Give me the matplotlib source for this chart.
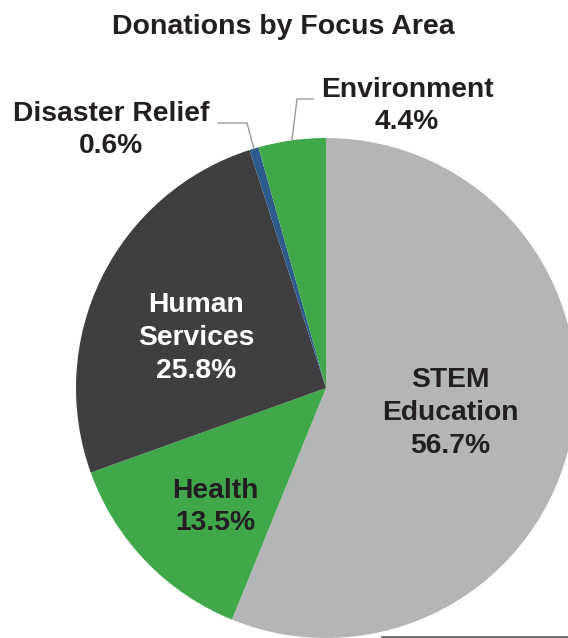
import matplotlib
matplotlib.use("Agg")
import matplotlib.pyplot as plt
import numpy as np
from matplotlib.lines import Line2D

plt.rcParams['font.family'] = ['Liberation Sans', 'DejaVu Sans']

categories = ["STEM Education", "Health", "Human Services", "Disaster Relief", "Environment"]
values = [56.7, 13.5, 25.8, 0.6, 4.4]
label_texts = ["STEM\nEducation\n56.7%", "Health\n13.5%", "Human\nServices\n25.8%",
               "Disaster Relief\n0.6%", "Environment\n4.4%"]
colors = ["#b3b5b6", "#41a74b", "#3f3f41", "#2c5b8c", "#41a74b"]
text_colors = ["#231f20", "#231f20", "#ffffff", "#231f20", "#231f20"]

W, H = 568, 638
fig = plt.figure(figsize=(W / 100, H / 100), dpi=100)
fig.patch.set_facecolor("white")

# pie geometry in pixels
cx, cy, R = 326, 388, 250
ax = fig.add_axes([(cx - R) / W, (H - cy - R) / H, 2 * R / W, 2 * R / H])
ax.set_aspect("equal")
ax.axis("off")

wedges, _ = ax.pie(values, colors=colors, startangle=90, counterclock=False,
                   radius=1, wedgeprops=dict(linewidth=0))
ax.set_xlim(-1, 1)
ax.set_ylim(-1, 1)

def px2d(px, py):
    return (px - cx) / R, (cy - py) / R

# label positions (pixel centers)
label_pos = [(450, 413), (215, 507), (196, 338), (111, 130), (407, 106)]
fs = 20.3
for txt, (px, py), tc in zip(label_texts, label_pos, text_colors):
    x, y = px2d(px, py)
    ax.text(x, y, txt, ha="center", va="center", fontsize=fs, fontweight="bold",
            color=tc, linespacing=1.33, clip_on=False)

# leader lines for small slices
total = sum(values)
cum = np.cumsum([0] + values)
def mid_point(i, r=1.0):
    frac = (cum[i] + values[i] / 2) / total
    ang = np.deg2rad(90 - frac * 360)
    return r * np.cos(ang), r * np.sin(ang)

lc = "#9a9a9a"
# Disaster Relief
ex, ey = mid_point(3, 1.0)
x0, y0 = px2d(218, 123)
x1, y1 = px2d(247, 123)
ax.add_line(Line2D([x0, x1, ex], [y0, y1, ey], color=lc, lw=1.0, clip_on=False))
# Environment
ex, ey = mid_point(4, 1.0)
x0, y0 = px2d(313, 99)
x1, y1 = px2d(297, 99)
ax.add_line(Line2D([x0, x1, ex], [y0, y1, ey], color=lc, lw=1.0, clip_on=False))

fig.text(283 / W, 1 - 27 / H, "Donations by Focus Area", ha="center", va="center",
         fontsize=20.5, fontweight="bold", color="#231f20")

fig.add_artist(Line2D([382 / W, 1.0], [0.7 / H, 0.7 / H], transform=fig.transFigure,
                      color="#555555", lw=1.2))

fig.savefig("out.png", dpi=100)
